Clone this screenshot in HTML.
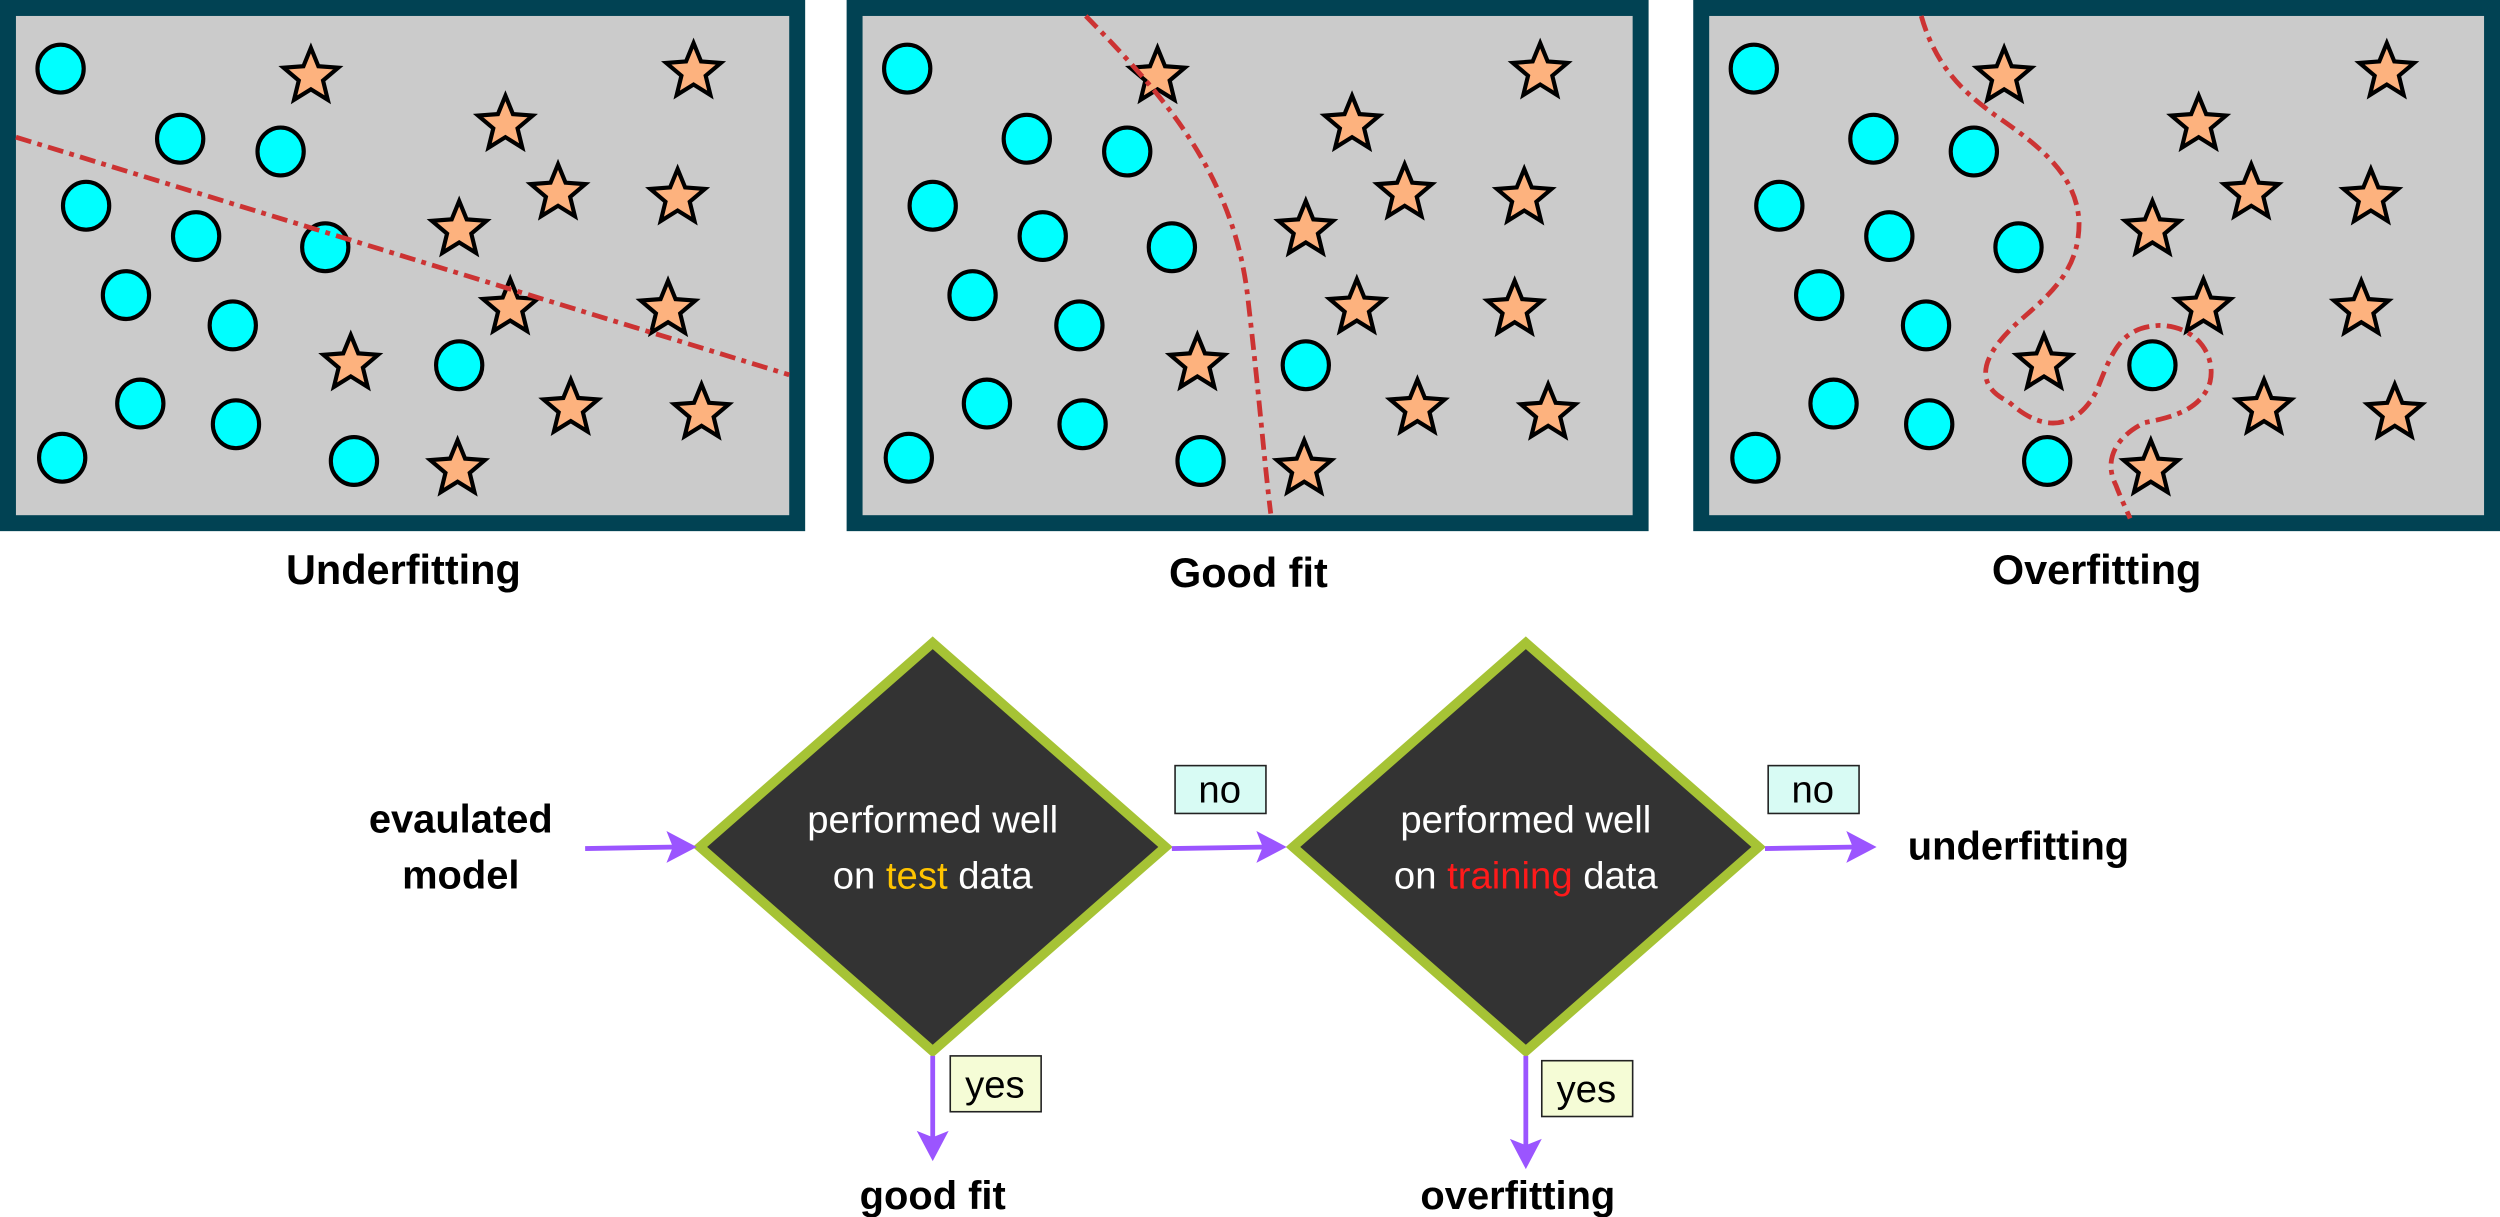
<!DOCTYPE html>
<html><head><meta charset="utf-8"><style>html,body{margin:0;padding:0;background:#fff}svg{display:block}</style></head>
<body>
<svg width="2500" height="1217" viewBox="0 0 1568 763" preserveAspectRatio="none" xmlns="http://www.w3.org/2000/svg" font-family="Liberation Sans, sans-serif">
<defs>
<path id="s" d="M0,-18 L4.7,-6.47 L17.12,-5.56 L7.61,2.47 L10.58,14.56 L0,8 L-10.58,14.56 L-7.61,2.47 L-17.12,-5.56 L-4.7,-6.47 Z" fill="#fdb27e" stroke="#000" stroke-width="2.6" stroke-linejoin="miter"/>
<g id="pts">
<g fill="#00ffff" stroke="#000" stroke-width="2.6">
<ellipse cx="38" cy="43" rx="14.5" ry="15"/>
<ellipse cx="113" cy="87" rx="14.5" ry="15"/>
<ellipse cx="176" cy="95" rx="14.5" ry="15"/>
<ellipse cx="54" cy="129" rx="14.5" ry="15"/>
<ellipse cx="123" cy="148" rx="14.5" ry="15"/>
<ellipse cx="204" cy="155" rx="14.5" ry="15"/>
<ellipse cx="79" cy="185" rx="14.5" ry="15"/>
<ellipse cx="146" cy="204" rx="14.5" ry="15"/>
<ellipse cx="288" cy="229" rx="14.5" ry="15"/>
<ellipse cx="88" cy="253" rx="14.5" ry="15"/>
<ellipse cx="148" cy="266" rx="14.5" ry="15"/>
<ellipse cx="222" cy="289" rx="14.5" ry="15"/>
<ellipse cx="39" cy="287" rx="14.5" ry="15"/>
</g>
<use href="#s" x="195" y="48"/>
<use href="#s" x="435" y="45"/>
<use href="#s" x="317" y="78"/>
<use href="#s" x="350" y="121"/>
<use href="#s" x="425" y="124"/>
<use href="#s" x="288" y="144"/>
<use href="#s" x="320" y="193"/>
<use href="#s" x="419" y="194"/>
<use href="#s" x="220" y="228"/>
<use href="#s" x="358" y="256"/>
<use href="#s" x="440" y="259"/>
<use href="#s" x="287" y="294"/>
</g>
</defs>

<!-- panels -->
<rect x="5" y="5" width="495" height="323" fill="#cbcbcb" stroke="#014253" stroke-width="10"/>
<rect x="536" y="5" width="493" height="323" fill="#cbcbcb" stroke="#014253" stroke-width="10"/>
<rect x="1067" y="5" width="496" height="323" fill="#cbcbcb" stroke="#014253" stroke-width="10"/>

<use href="#pts"/>
<use href="#pts" x="531"/>
<use href="#pts" x="1062"/>

<g fill="none" stroke="#cc3333" stroke-width="3" stroke-dasharray="10,4,3,4">
<path d="M10,86 L495,235"/>
<path d="M681,10 C730,60 775,110 783,190 C790,250 793,290 797,322"/>
<path d="M1205,10 C1215,45 1235,60 1251,72 C1280,92 1303,110 1304,140 C1304,170 1285,185 1268,200 C1245,220 1235,240 1260,252 C1285,275 1305,265 1315,245 C1325,220 1330,205 1355,204 C1380,205 1390,225 1386,240 C1380,258 1360,262 1345,265 C1325,275 1320,290 1327,304 C1330,312 1333,318 1336,325"/>
</g>

<g font-weight="bold" font-size="26" text-anchor="middle" fill="#000">
<text x="253" y="366">Underfitting</text>
<text x="783" y="368">Good fit</text>
<text x="1315" y="366">Overfitting</text>
</g>

<!-- diamonds -->
<polygon points="585,403 731,531 585,659 439,531" fill="#333" stroke="#a6c335" stroke-width="6"/>
<polygon points="957,403 1103,531 957,659 811,531" fill="#333" stroke="#a6c335" stroke-width="6"/>
<g font-size="24" fill="#fff" text-anchor="middle">
<text x="585" y="522">performed well</text>
<text x="585" y="557">on <tspan fill="#ffc400">test</tspan> data</text>
<text x="957" y="522">performed well</text>
<text x="957" y="557">on <tspan fill="#ff1a1a">training</tspan> data</text>
</g>

<!-- arrows -->
<g stroke="#9b55ff" stroke-width="3" fill="none">
<path d="M367,532 L425,531"/>
<path d="M735,532 L795,531"/>
<path d="M1107,532 L1165,531"/>
<path d="M585,662 L585,715"/>
<path d="M957,662 L957,720"/>
</g>
<g fill="#9b55ff">
<polygon points="437,531 418,521 422,531 418,541"/>
<polygon points="807,531 788,521 792,531 788,541"/>
<polygon points="1177,531 1158,521 1162,531 1158,541"/>
<polygon points="585,728 575,709 585,713 595,709"/>
<polygon points="957,733 947,714 957,718 967,714"/>
</g>

<!-- labels -->
<g stroke="#222" stroke-width="1">
<rect x="737" y="480" width="57" height="30" fill="#d8fbf4"/>
<rect x="1109" y="480" width="57" height="30" fill="#d8fbf4"/>
<rect x="596" y="662" width="57" height="35" fill="#f5fcd6"/>
<rect x="967" y="665" width="57" height="35" fill="#f5fcd6"/>
</g>
<g font-size="24" fill="#000" text-anchor="middle">
<text x="765" y="503">no</text>
<text x="1137" y="503">no</text>
<text x="624" y="688">yes</text>
<text x="995" y="691">yes</text>
</g>

<g font-weight="bold" font-size="25" fill="#000" text-anchor="middle">
<text x="289" y="522">evaulated</text>
<text x="289" y="557">model</text>
<text x="585" y="758">good fit</text>
<text x="952" y="758">overfitting</text>
<text x="1266" y="539">underfitting</text>
</g>
</svg>
</body></html>
